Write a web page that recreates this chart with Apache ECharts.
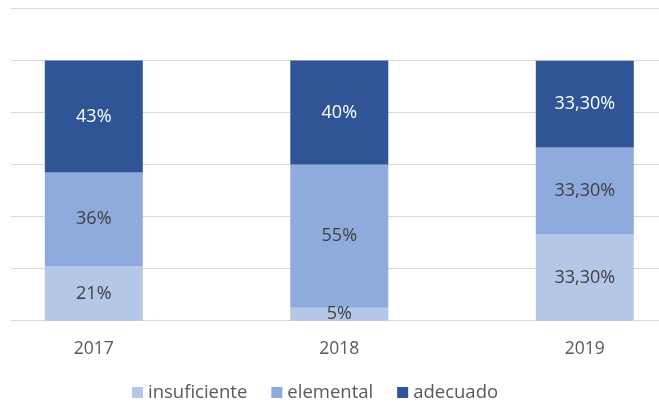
<!DOCTYPE html>
<html>
<head>
<meta charset="utf-8">
<script src="https://cdn.jsdelivr.net/npm/echarts@6/dist/echarts.min.js"></script>
<style>html,body{margin:0;padding:0;background:#fff}#c{width:659px;height:402px}</style>
</head>
<body>
<div id="c"></div>
<script>
const categories = ['2017', '2018', '2019'];
const insuficiente = [21, 5, 33.3];
const elemental = [36, 55, 33.3];
const adecuado = [43, 40, 33.3];
const seriesNames = ['insuficiente', 'elemental', 'adecuado'];
const yTicks = [0, 20, 40, 60, 80, 100, 120];

const FONT = 'Open Sans';
const fmt = p => Number.isInteger(p.value) ? p.value + '%' : p.value.toFixed(2).replace('.', ',') + '%';

const colors = ['#B4C7E7', '#8FAADC', '#2F5597'];
const labelColors = ['#404040', '#404040', '#ffffff'];
const dataSets = [insuficiente, elemental, adecuado];

const chart = echarts.init(document.getElementById('c'), null, {renderer: 'canvas'});
chart.setOption({
  animation: false,
  grid: [
    {left: 93.8, width: 491, top: 8.5, bottom: 81.3, containLabel: false},
    {left: 11, right: 0, top: 8.5, bottom: 81.3, containLabel: false}
  ],
  xAxis: [
    {type: 'category', gridIndex: 0, data: categories, boundaryGap: false,
     axisLine: {show: false}, axisTick: {show: false}, splitLine: {show: false},
     axisLabel: {color: '#595959', fontFamily: FONT, fontSize: 17.5, margin: 19}},
    {type: 'value', gridIndex: 1, show: false, min: 0, max: 1}
  ],
  yAxis: [
    {type: 'value', gridIndex: 0, min: yTicks[0], max: yTicks[yTicks.length - 1], interval: 20, show: false, splitLine: {show: false}},
    {type: 'value', gridIndex: 1, min: yTicks[0], max: yTicks[yTicks.length - 1], interval: 20,
     axisLine: {show: false}, axisTick: {show: false}, axisLabel: {show: false},
     splitLine: {show: true, lineStyle: {color: '#D9D9D9', width: 1}}}
  ],
  legend: {
    left: 132, top: 383, padding: 0, itemWidth: 11, itemHeight: 11, itemGap: 24,
    icon: 'rect',
    data: seriesNames,
    textStyle: {color: '#595959', fontFamily: FONT, fontSize: 18.5}
  },
  series: seriesNames.map((n, i) => ({
    name: n, type: 'bar', stack: 'total', xAxisIndex: 0, yAxisIndex: 0,
    barWidth: 98, clip: false,
    data: dataSets[i],
    itemStyle: {color: colors[i]},
    label: {show: true, position: 'inside', formatter: fmt, color: labelColors[i], fontFamily: FONT, fontSize: 18}
  }))
});
</script>
</body>
</html>
